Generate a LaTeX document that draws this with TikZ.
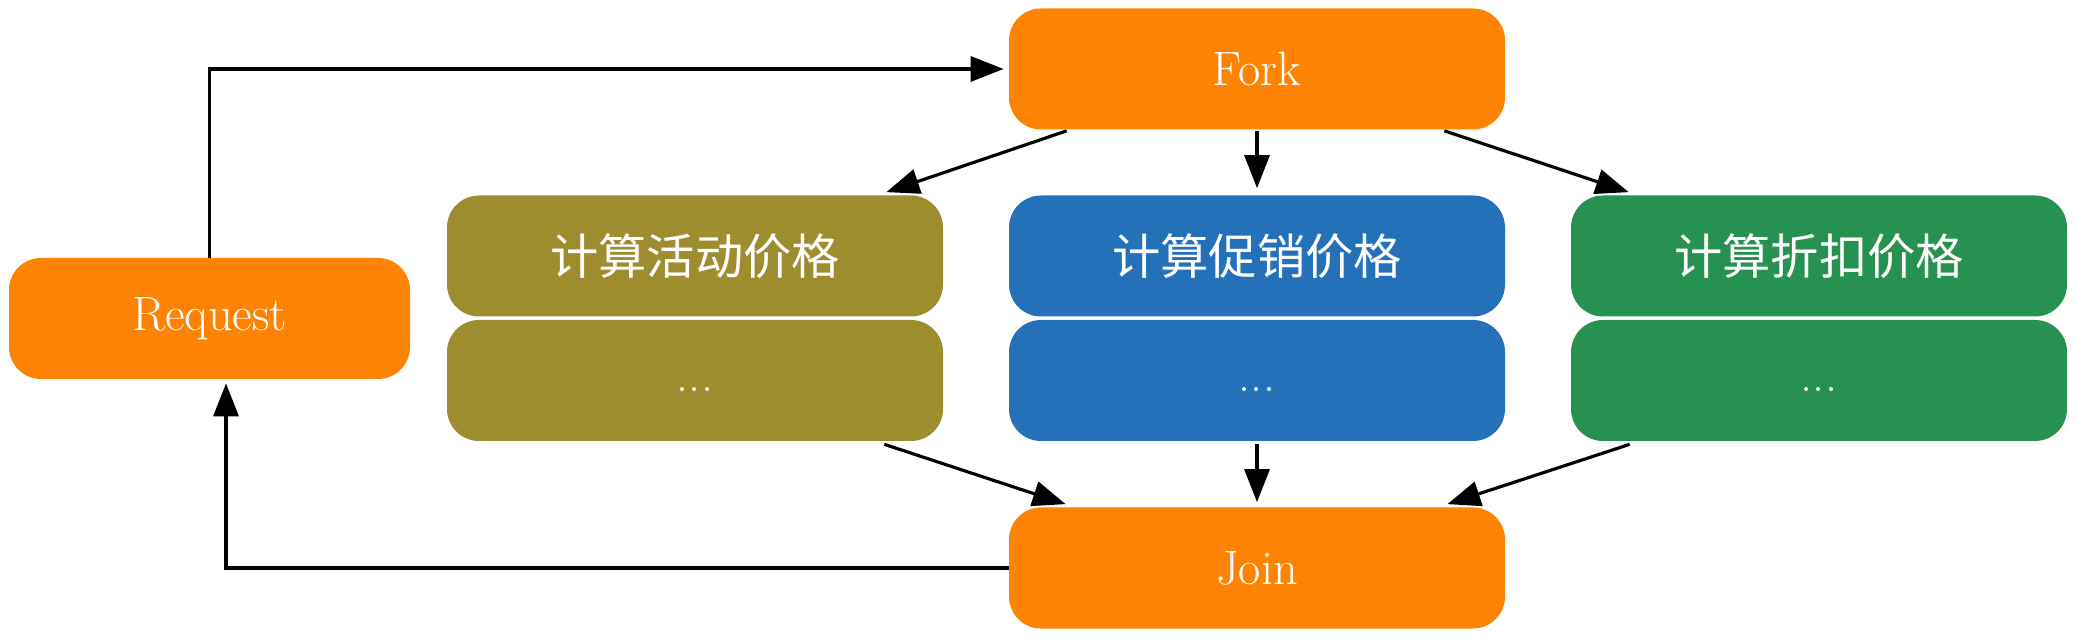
\documentclass[tikz,border=0pt]{standalone}
\usepackage{fontspec}
\newfontfamily\cjk{Noto Sans CJK SC}
\usetikzlibrary{arrows.meta}
\definecolor{forkorange}{HTML}{FF8302}
\definecolor{actolive}{HTML}{9E8D2F}
\definecolor{promoblue}{HTML}{2471BA}
\definecolor{discgreen}{HTML}{279152}
\begin{document}
\begin{tikzpicture}[node distance = 11.24cm,
  box/.style = {rounded corners = 0.64cm, minimum width = 9.92cm,
    minimum height = 2.42cm, inner sep = 0pt, text = white,
    font = \fontsize{27.5}{32}\selectfont},
  more/.style = {box, text height = 0.6cm, text depth = 0.16cm},
  arr/.style = {line width = 1.8pt, -{Triangle[length = 0.66cm, width = 0.5cm]}}]
  \useasboundingbox (0, 0) rectangle (41.52, 12.76);

  \node[box, fill = forkorange] (fork) at (25.14, 11.38) {Fork};
  \node[box, fill = promoblue, below of = fork, node distance = 3.74cm] (promo) {\cjk 计算促销价格};
  \node[more, fill = promoblue, below of = promo, node distance = 2.49cm] (promo2) {...};
  \node[box, fill = actolive, left of = promo] (act) {\cjk 计算活动价格};
  \node[more, fill = actolive, left of = promo2] (act2) {...};
  \node[box, fill = discgreen, right of = promo] (disc) {\cjk 计算折扣价格};
  \node[more, fill = discgreen, right of = promo2] (disc2) {...};
  \node[box, fill = forkorange, below of = promo2, node distance = 3.75cm] (join) {Join};
  \node[box, fill = forkorange, minimum width = 8.02cm] (req) at (4.19, 6.39) {Request};

  \draw[arr, shorten > = 0.1cm] (req.north) |- (fork.west);
  \draw[arr] ([xshift = 1.16cm, yshift = -0.02cm]fork.south west) to ([xshift = -1.14cm, yshift = 0.06cm]act.north east);
  \draw[arr, shorten > = 0.14cm] ([yshift = -0.02cm]fork.south) to (promo.north);
  \draw[arr] ([xshift = -1.22cm, yshift = -0.02cm]fork.south east) to ([xshift = 1.16cm, yshift = 0.06cm]disc.north west);
  \draw[arr] ([xshift = -1.18cm, yshift = -0.06cm]act2.south east) to ([xshift = 1.14cm, yshift = 0.06cm]join.north west);
  \draw[arr, shorten > = 0.1cm] ([yshift = -0.06cm]promo2.south) to (join.north);
  \draw[arr] ([xshift = 1.18cm, yshift = -0.06cm]disc2.south west) to ([xshift = -1.16cm, yshift = 0.06cm]join.north east);
  \draw[arr, shorten > = 0.08cm] (join.west) -| ([xshift = 0.33cm]req.south);
\end{tikzpicture}
\end{document}
